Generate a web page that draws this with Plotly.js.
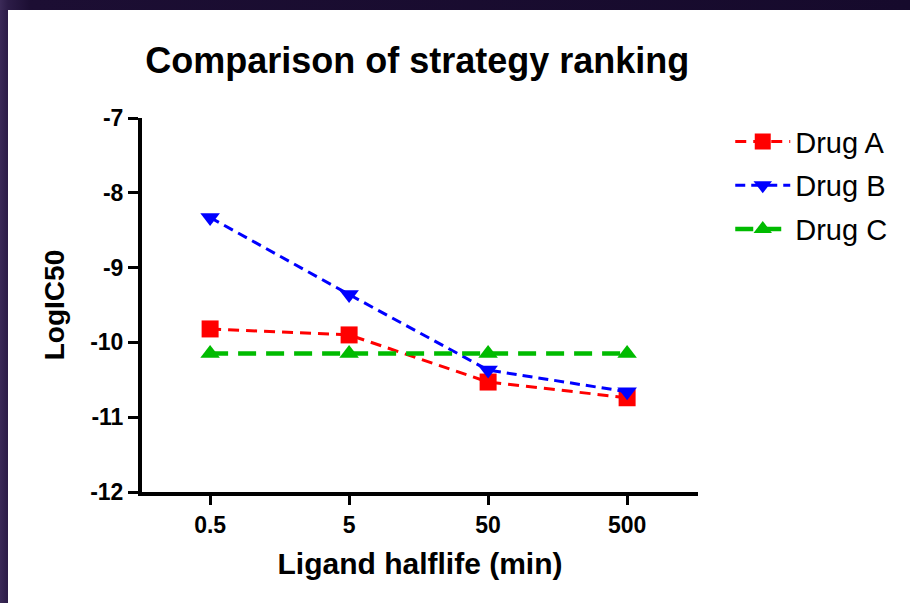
<!DOCTYPE html>
<html>
<head>
<meta charset="utf-8">
<script src="https://cdn.plot.ly/plotly-3.0.1.min.js"></script>
<style>
  html, body { margin: 0; padding: 0; width: 910px; height: 603px; overflow: hidden;
    background: linear-gradient(to right, #3b2a58 0px, #2c1c47 8px, #1c0e33 30px, #160a2c 100%); }
  #chart { position: absolute; left: 8px; top: 10px; width: 902px; height: 593px; background: #ffffff; }
</style>
</head>
<body>
<div id="chart"></div>
<script>
const categories = ['0.5', '5', '50', '500'];
const drugA = [-9.82, -9.90, -10.53, -10.74];
const drugB = [-8.33, -9.36, -10.37, -10.66];
const drugC = [-10.15, -10.15, -10.15, -10.15];
const yTicks = [-12, -11, -10, -9, -8, -7];
const seriesNames = ['Drug A', 'Drug B', 'Drug C'];

const font = 'Liberation Sans, Arial, sans-serif';

const traces = [
  {
    x: categories, y: drugA, name: seriesNames[0], legendgroup: 'a',
    type: 'scatter', mode: 'lines+markers',
    line: { color: '#ff0000', width: 3, dash: '11px,7px' },
    marker: { symbol: 'square', size: 17, color: '#ff0000' }
  },
  {
    x: categories, y: drugB, name: seriesNames[1], legendgroup: 'b',
    type: 'scatter', mode: 'lines+markers',
    line: { color: '#0000ff', width: 3, dash: '10px,6px' },
    marker: { symbol: 'triangle-down', size: 17, color: '#0000ff' }
  },
  {
    x: categories, y: drugC, name: seriesNames[2], legendgroup: 'c',
    type: 'scatter', mode: 'lines+markers',
    line: { color: '#00bb00', width: 4.5, dash: '18px,10px' },
    marker: { symbol: 'triangle-up', size: 17, color: '#00bb00' }
  }
];

const layout = {
  width: 902, height: 593,
  margin: { l: 134, r: 212, t: 108, b: 111 },
  paper_bgcolor: '#ffffff', plot_bgcolor: '#ffffff',
  font: { family: font, color: '#000000' },
  title: {
    text: 'Comparison of strategy ranking',
    font: { family: font, size: 36, weight: 'bold', color: '#000000' },
    xref: 'paper', x: 0.495, xanchor: 'center',
    yref: 'container', y: 0.915, yanchor: 'middle'
  },
  xaxis: {
    type: 'category', range: [-0.49, 3.51],
    showgrid: false, zeroline: false,
    showline: true, linewidth: 4, linecolor: '#000000',
    ticks: 'outside', ticklen: 9, tickwidth: 3, tickcolor: '#000000',
    tickfont: { family: font, size: 23, weight: 'bold', color: '#000000' },
    title: { text: 'Ligand halflife (min)', standoff: 17,
      font: { family: font, size: 30, weight: 'bold', color: '#000000' } },
    automargin: false, fixedrange: true
  },
  yaxis: {
    range: [-12, -7], tickvals: yTicks, ticktext: yTicks.map(v => String(v)),
    showgrid: false, zeroline: false,
    showline: true, linewidth: 4, linecolor: '#000000',
    ticks: 'outside', ticklen: 10, tickwidth: 3, tickcolor: '#000000',
    tickfont: { family: font, size: 23, weight: 'bold', color: '#000000' },
    title: { text: 'LogIC50', standoff: 18,
      font: { family: font, size: 28, weight: 'bold', color: '#000000' } },
    automargin: false, fixedrange: true
  },
  showlegend: true,
  legend: {
    x: 1.058, xanchor: 'left', y: 1.005, yanchor: 'top',
    font: { family: font, size: 29, color: '#000000' },
    bgcolor: 'rgba(0,0,0,0)', borderwidth: 0,
    tracegroupgap: 3, itemwidth: 55, traceorder: 'grouped'
  }
};

Plotly.newPlot('chart', traces, layout, { displayModeBar: false, staticPlot: true });
</script>
</body>
</html>
